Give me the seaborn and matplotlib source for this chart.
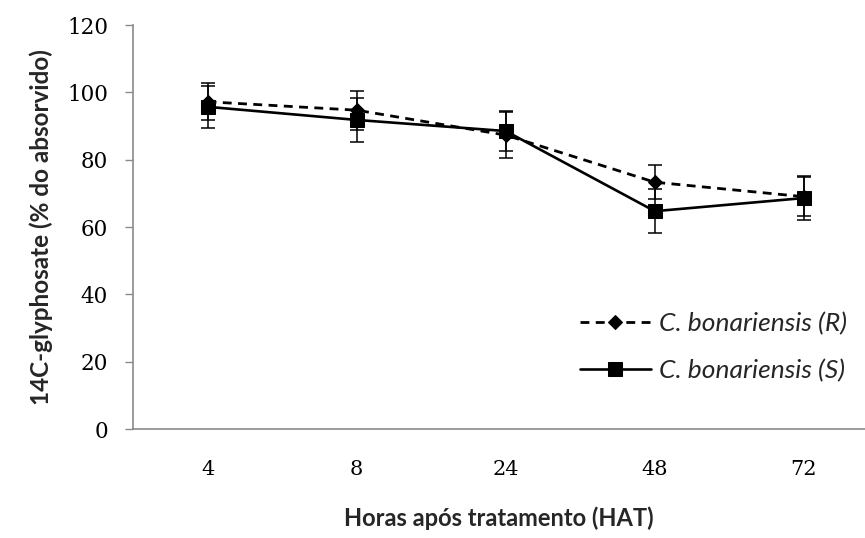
import matplotlib
matplotlib.use("Agg")
import matplotlib.pyplot as plt
import seaborn as sns
import numpy as np
import pandas as pd

categories = ["4", "8", "24", "48", "72"]
r_values = [97.2, 94.7, 87.3, 73.3, 69.0]
r_errors = [5.5, 5.8, 6.8, 5.1, 5.8]
s_values = [95.7, 91.8, 88.5, 64.7, 68.6]
s_errors = [6.2, 6.5, 6.0, 6.5, 6.5]
series_names = ["C. bonariensis (R)", "C. bonariensis (S)"]
y_ticks = [0, 20, 40, 60, 80, 100, 120]

sns.set_theme(style="white")
plt.rcParams["font.family"] = ["Lato", "DejaVu Sans"]

fig = plt.figure(figsize=(8.65, 5.38), dpi=100)
ax = fig.add_axes([133 / 865, 1 - 429 / 538, (865 - 133) / 865, (429 - 25) / 538])

df = pd.DataFrame({
    "HAT": categories * 2,
    "value": r_values + s_values,
    "err": r_errors + s_errors,
    "series": [series_names[0]] * 5 + [series_names[1]] * 5,
})

styles = {
    series_names[0]: dict(marker="D", markersize=7.5, dashes=(3.2, 2.3), lw=2.0),
    series_names[1]: dict(marker="s", markersize=9.5, dashes=None, lw=1.9),
}

handles = []
for name in series_names:
    sub = df[df["series"] == name]
    st = styles[name]
    kw = dict(color="black", marker=st["marker"], markersize=st["markersize"],
              linewidth=st["lw"], markeredgecolor="black", ax=ax, label=name, legend=False)
    sns.lineplot(data=sub, x="HAT", y="value", sort=False, **kw)
    line = ax.lines[-1]
    if st["dashes"] is not None:
        line.set_dashes(st["dashes"])
    handles.append(line)
    pos = np.arange(len(sub))
    ax.errorbar(pos, sub["value"], yerr=sub["err"], fmt="none", ecolor="black",
                elinewidth=1.1, capsize=5, capthick=1.1, zorder=1)

ax.set_xlim(-0.5, 4.41)
ax.set_ylim(0, 120)
ax.set_yticks(y_ticks)
ax.set_yticklabels([str(t) for t in y_ticks], family="DejaVu Serif", fontsize=15.5)
ax.set_xticks(range(len(categories)))
ax.set_xticklabels(categories, family="DejaVu Serif", fontsize=15)

for side in ["top", "right"]:
    ax.spines[side].set_visible(False)
for side in ["left", "bottom"]:
    ax.spines[side].set_color("#8a8a8a")
    ax.spines[side].set_linewidth(1.2)

ax.tick_params(axis="y", which="major", direction="out", length=6, width=1.0,
               color="#8a8a8a", left=True, pad=12, labelcolor="black")
ax.tick_params(axis="x", which="major", length=0, pad=22, labelcolor="black")

ax.set_xlabel("Horas após tratamento (HAT)", fontsize=17, fontweight="bold", labelpad=20)
ax.set_ylabel("14C-glyphosate (% do absorvido)", fontsize=17.5, fontweight="bold", labelpad=10)

leg = ax.legend(handles=handles, labels=series_names, loc="center left",
                bbox_to_anchor=(0.578, 0.202), frameon=False,
                prop=dict(family="Lato", style="italic", size=19),
                handlelength=2.7, labelspacing=0.9, handletextpad=0.3)

fig.savefig("out.png", dpi=100)
